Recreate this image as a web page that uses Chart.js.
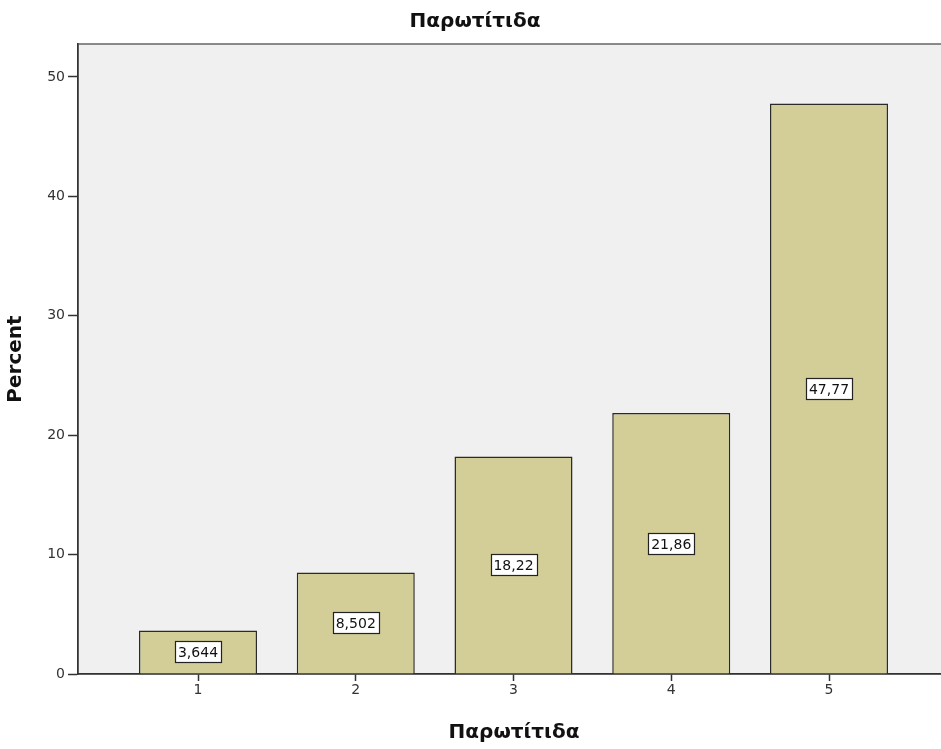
<!DOCTYPE html>
<html>
<head>
<meta charset="utf-8">
<script src="https://cdn.jsdelivr.net/npm/chart.js@4/dist/chart.umd.min.js"></script>
<style>
  html, body { margin: 0; padding: 0; background: #fff; overflow: hidden; }
  #wrap { width: 950px; height: 749px; }
</style>
</head>
<body>
<div id="wrap"><canvas id="chart"></canvas></div>
<script>
const categories = [1, 2, 3, 4, 5]
const percentValues = [3.644, 8.502, 18.22, 21.86, 47.77]
const valueLabels = ["3,644", "8,502", "18,22", "21,86", "47,77"]
const yTicks = [0, 10, 20, 30, 40, 50]

// plot frame + light grey background
const frame = {
    id: 'frame',
    beforeDraw(chart) {
        const { ctx, chartArea: a } = chart
        ctx.save()
        ctx.fillStyle = '#f0f0f0'
        ctx.fillRect(a.left, a.top, a.right - a.left, a.bottom - a.top)
        ctx.strokeStyle = '#666'
        ctx.lineWidth = 1.5
        ctx.strokeRect(a.left, a.top, a.right - a.left, a.bottom - a.top)
        ctx.restore()
    }
}

// white boxed value labels in the middle of each bar
const boxLabels = {
    id: 'boxLabels',
    afterDatasetsDraw(chart) {
        const { ctx } = chart
        const meta = chart.getDatasetMeta(0)
        ctx.save()
        ctx.font = '14px "DejaVu Sans", sans-serif'
        ctx.textAlign = 'center'
        ctx.textBaseline = 'middle'
        meta.data.forEach((bar, i) => {
            const txt = valueLabels[i]
            const w = Math.round(ctx.measureText(txt).width + 6)
            const h = 21
            const x0 = Math.round(bar.x - w / 2) + 0.5
            const y0 = Math.round((bar.y + bar.base) / 2 - h / 2) + 0.5
            ctx.fillStyle = '#fff'
            ctx.fillRect(x0, y0, w, h)
            ctx.strokeStyle = '#222'
            ctx.lineWidth = 1.2
            ctx.strokeRect(x0, y0, w, h)
            ctx.fillStyle = '#111'
            ctx.fillText(txt, bar.x, y0 + h / 2 + 1)
        })
        ctx.restore()
    }
}

const titleFont = { family: '"DejaVu Sans", sans-serif', size: 20, weight: 'bold' }
const tickFont = { family: '"DejaVu Sans", sans-serif', size: 14 }

new Chart(document.getElementById('chart'), {
    type: 'bar',
    data: {
        datasets: [{
            data: categories.map((c, i) => ({ x: c, y: percentValues[i] })),
            backgroundColor: '#d3ce97',
            borderColor: '#2a2a2a',
            borderWidth: 1.5,
            borderSkipped: 'bottom',
            barPercentage: 0.86,
            categoryPercentage: 0.87
        }]
    },
    options: {
        responsive: true,
        maintainAspectRatio: false,
        animation: false,
        layout: { padding: 0 },
        plugins: {
            legend: { display: false },
            tooltip: { enabled: false },
            title: {
                display: true,
                text: 'Παρωτίτιδα',
                color: '#111',
                font: titleFont,
                padding: { top: 10, bottom: 10 }
            }
        },
        scales: {
            x: {
                type: 'linear',
                offset: false,
                min: 0.2393,
                max: 5.767,
                afterBuildTicks: s => { s.ticks = categories.map(v => ({ value: v })) },
                afterFit: s => { s.height = 75 },
                grid: { display: true, offset: false, drawOnChartArea: false, drawTicks: true, tickLength: 7, tickColor: '#333', tickWidth: 1.5 },
                border: { display: true, color: '#333', width: 1.5 },
                ticks: {
                    color: '#333',
                    font: tickFont,
                    padding: 1,
                    maxRotation: 0
                },
                title: {
                    display: true,
                    text: 'Παρωτίτιδα',
                    color: '#111',
                    font: titleFont,
                    padding: { top: 14 }
                }
            },
            y: {
                min: 0,
                max: 52.76,
                afterBuildTicks: s => { s.ticks = yTicks.map(v => ({ value: v })) },
                afterFit: s => { s.width = 78 },
                grid: { display: true, drawOnChartArea: false, drawTicks: true, tickLength: 10, tickColor: '#333', tickWidth: 1.5 },
                border: { display: true, color: '#333', width: 1.5 },
                ticks: {
                    color: '#333',
                    font: tickFont,
                    padding: 3
                },
                title: {
                    display: true,
                    text: 'Percent',
                    color: '#111',
                    font: titleFont,
                    padding: { bottom: 0 }
                }
            }
        }
    },
    plugins: [frame, boxLabels]
})
</script>
</body>
</html>
